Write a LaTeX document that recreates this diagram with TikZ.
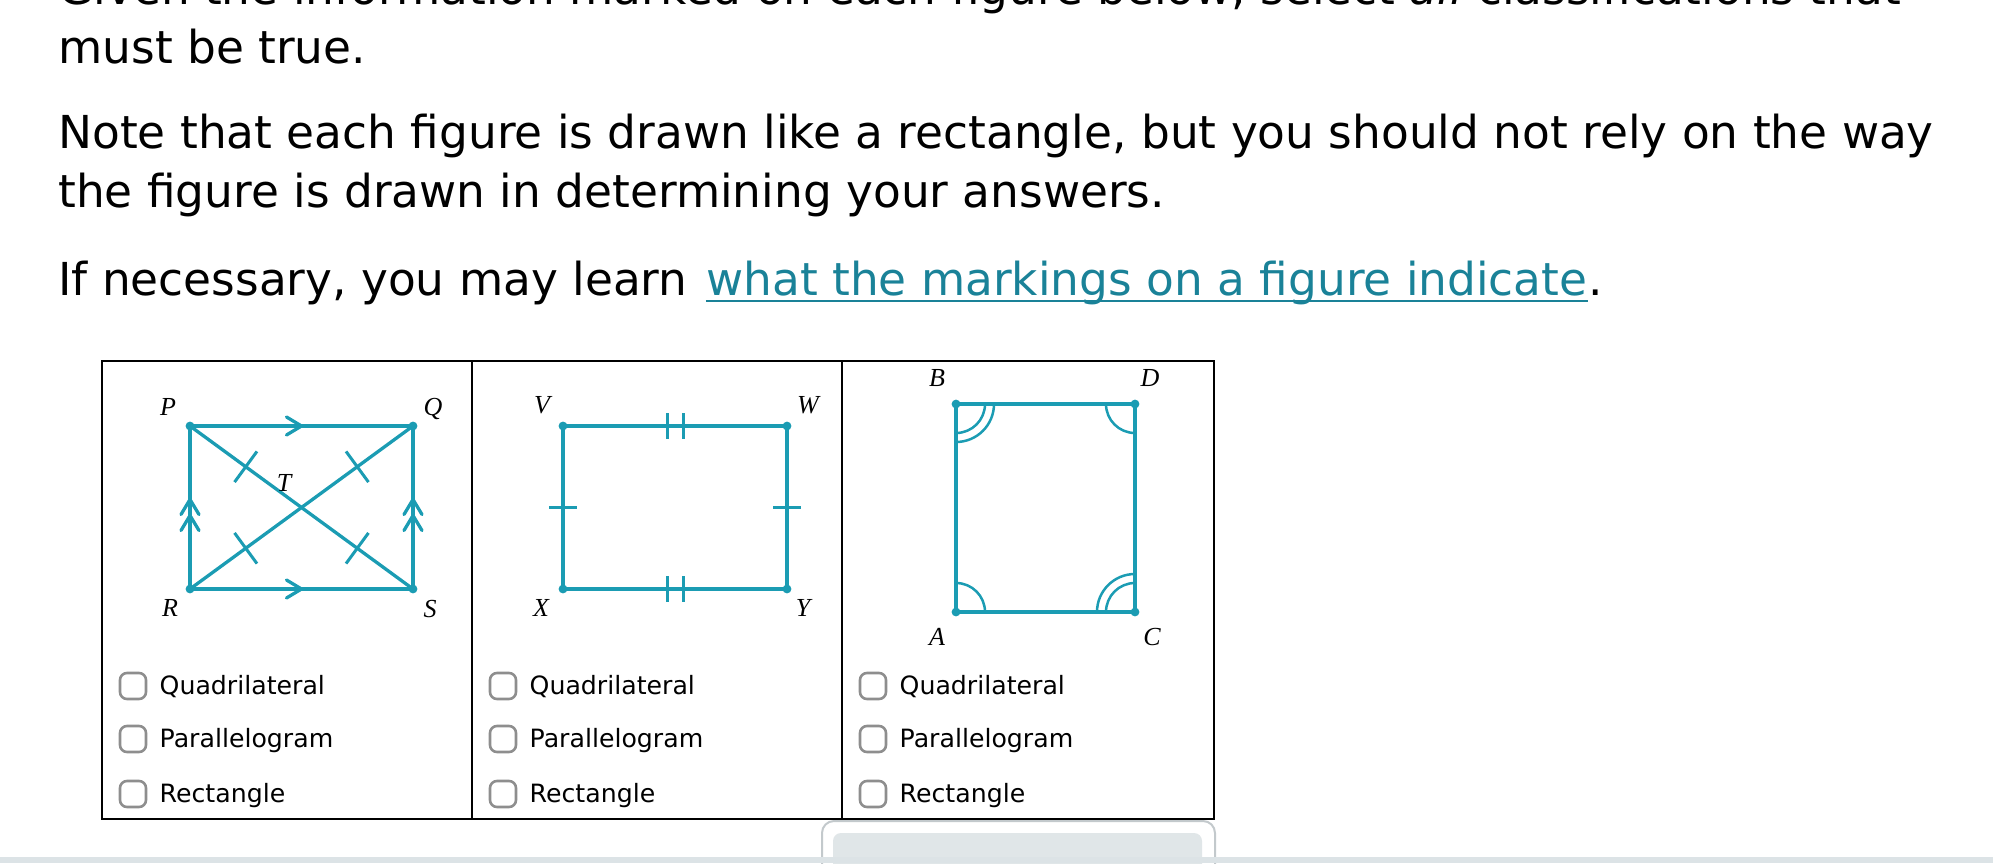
\documentclass[tikz,border=0pt]{standalone}
\usepackage{fontspec}
\setmainfont{DejaVu Sans}
\newfontfamily\labelfont{Liberation Serif}
\usepackage{tikz}
\usetikzlibrary{calc}
\usetikzlibrary{positioning}
\definecolor{figcolor}{HTML}{1B9CB3}
\definecolor{linkcolor}{HTML}{1A8298}
\definecolor{boxgrey}{HTML}{8E8E8E}
\definecolor{bandgrey}{HTML}{DCE3E6}
\definecolor{btnline}{HTML}{C3C9CC}
\definecolor{btnfill}{HTML}{E0E6E8}

\begin{document}
\begin{tikzpicture}[x=0.5pt,y=-0.5pt,
% define styles here
prose/.style={anchor=base west, inner sep=0pt, font=\fontsize{22.7}{27}\selectfont},
option/.style={anchor=base west, inner sep=0pt, font=\fontsize{12.6}{15}\selectfont},
vlabel/.style={inner sep=0pt, font=\fontsize{13}{15}\selectfont\labelfont\itshape},
figline/.style={draw=figcolor, line width=1.65pt, line cap=round, line join=round},
tick/.style={draw=figcolor, line width=1.5pt},
anglearc/.style={draw=figcolor, line width=1.25pt},
tableline/.style={draw=black, line width=1pt},
checkbox/.style={draw=boxgrey, line width=1.3pt, rounded corners=3.5pt, minimum size=13pt, inner sep=0pt}
]
\useasboundingbox (0,0) rectangle (1993,863);
\clip (0,0) rectangle (1993,863);

% question text
\node[prose] (given) at (58,4) {Given the information marked on each figure below, select \emph{all} classifications that};
\node[prose] (mustbe) at (58,63) {must be true.};
\node[prose] (note1) at (58,148) {Note that each figure is drawn like a rectangle, but you should not rely on the way};
\node[prose] (note2) at (58,207) {the figure is drawn in determining your answers.};
\node[prose] (learn) at (58,295) {If necessary, you may learn};
\node[prose, text=linkcolor] (link) at ($(learn.base east)+(18,0)$) {what the markings on a figure indicate};
\node[prose] (stop) at (link.base east) {.};
\draw[linkcolor, line width=1.3pt] ($(link.base west)+(0,6)$) -- ($(link.base east)+(0,6)$);

% table
\draw[tableline] (102,361) rectangle (1214,819);
\draw[tableline] (472,361) -- (472,819);
\draw[tableline] (842,361) -- (842,819);

% figure 1
\coordinate (P) at (190,426);
\coordinate (Q) at (413,426);
\coordinate (R) at (190,589);
\coordinate (S) at (413,589);
\draw[figline] (P) -- (Q) -- (S) -- (R) -- cycle;
\draw[figline] (P) -- (S);
\draw[figline] (Q) -- (R);
\coordinate (T) at (intersection of P--S and Q--R);
\foreach \v in {P,Q,R,S} {
  \coordinate (m\v) at ($(\v)!0.5!(T)$);
  \draw[tick] ($(m\v)!9.5pt!90:(T)$) -- ($(m\v)!9.5pt!-90:(T)$);
}
\coordinate (mPQ) at ($(P)!0.5!(Q)$);
\coordinate (mRS) at ($(R)!0.5!(S)$);
\draw[figline] ($(mPQ)+(-15,-9)$) -- (mPQ) -- ($(mPQ)+(-15,9)$);
\draw[figline] ($(mRS)+(-15,-9)$) -- (mRS) -- ($(mRS)+(-15,9)$);
\foreach \a/\b in {R/P,S/Q} {
  \coordinate (mid) at ($(\a)!0.5!(\b)$);
  \draw[figline] ($(mid)+(-9,7)$) -- ($(mid)+(0,-8)$) -- ($(mid)+(9,7)$);
  \draw[figline] ($(mid)+(-9,23)$) -- ($(mid)+(0,8)$) -- ($(mid)+(9,23)$);
}
\node[vlabel] (labP) at (168,407) {P};
\node[vlabel] (labQ) at (433,409) {Q};
\node[vlabel] (labR) at (170,608) {R};
\node[vlabel] (labS) at (430,609) {S};
\node[vlabel] (labT) at (284,483) {T};

% figure 2
\coordinate (V) at (563,426);
\coordinate (W) at (787,426);
\coordinate (X) at (563,589);
\coordinate (Y) at (787,589);
\draw[figline] (V) -- (W) -- (Y) -- (X) -- cycle;
\foreach \a/\b in {V/W,X/Y} {
  \coordinate (mid) at ($(\a)!0.5!(\b)$);
  \draw[tick] ($(mid)+(-8,-13)$) -- ($(mid)+(-8,13)$);
  \draw[tick] ($(mid)+(8,-13)$) -- ($(mid)+(8,13)$);
}
\foreach \a/\b in {V/X,W/Y} {
  \coordinate (mid) at ($(\a)!0.5!(\b)$);
  \draw[tick] ($(mid)+(-14,0)$) -- ($(mid)+(14,0)$);
}
\node[vlabel] (labV) at (542,405) {V};
\node[vlabel] (labW) at (808,405) {W};
\node[vlabel] (labX) at (541,608) {X};
\node[vlabel] (labY) at (803,608) {Y};

% figure 3
\coordinate (B) at (956,404);
\coordinate (D) at (1135,404);
\coordinate (A) at (956,612);
\coordinate (C) at (1135,612);
\draw[figline] (B) -- (D) -- (C) -- (A) -- cycle;
\draw[anglearc] ($(A)+(29,0)$) arc[start angle=0, end angle=-90, radius=29];
\draw[anglearc] ($(D)+(-29,0)$) arc[start angle=180, end angle=90, radius=29];
\foreach \r in {29,38} {
  \draw[anglearc] ($(B)+(\r,0)$) arc[start angle=0, end angle=90, radius=\r];
  \draw[anglearc] ($(C)+(-\r,0)$) arc[start angle=180, end angle=270, radius=\r];
}
\node[vlabel] (labB) at (937,378) {B};
\node[vlabel] (labD) at (1150,378) {D};
\node[vlabel] (labA) at (937,637) {A};
\node[vlabel] (labC) at (1152,637) {C};

\foreach \v in {P,Q,R,S,V,W,X,Y,A,B,C,D}
  \fill[figcolor] (\v) circle (2.2pt);

% choices
\foreach \col/\x in {1/102,2/472,3/842} {
  \foreach \row/\y/\choice in {1/686/Quadrilateral,2/739/Parallelogram,3/794/Rectangle} {
    \node[checkbox] (box\col\row) at (\x+31,\y) {};
    \node[option] (opt\col\row) at ($(box\col\row.east)+(12,8)$) {\choice};
  }
}

% button and bottom band
\draw[draw=btnline, fill=white, line width=1pt, rounded corners=6pt] (822,900) -- (822,821) -- (1215,821) -- (1215,900);
\fill[btnfill, rounded corners=4pt] (833,833) rectangle (1202,900);
\fill[bandgrey] (0,857) rectangle (1993,863);
\end{tikzpicture}
\end{document}
